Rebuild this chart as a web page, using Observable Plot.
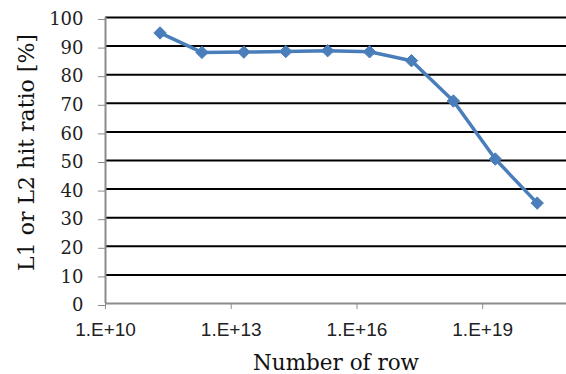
<!DOCTYPE html>
<html>
<head>
<meta charset="utf-8">
<script src="https://cdn.jsdelivr.net/npm/d3@7"></script>
<script src="https://cdn.jsdelivr.net/npm/@observablehq/plot@0.6"></script>
<style>
  html, body { margin: 0; padding: 0; background: #fff; }
  #chart svg { display: block; }
</style>
</head>
<body>
<div id="chart"></div>
<script>
const rows = [2e11, 2e12, 2e13, 2e14, 2e15, 2e16, 2e17, 2e18, 2e19, 2e20];
const hitRatio = [94.6, 87.8, 87.9, 88.1, 88.4, 88.0, 84.9, 70.8, 50.5, 35.1];
const xTicks = [1e10, 1e13, 1e16, 1e19];
const yTicks = [0, 10, 20, 30, 40, 50, 60, 70, 80, 90, 100];
const gridY = yTicks.filter(v => v > 0);

const data = rows.map((r, i) => ({rows: r, ratio: hitRatio[i]}));
const blue = "#4a7ebb";

const chart = Plot.plot({
  width: 566,
  height: 374,
  marginLeft: 105,
  marginRight: 0,
  marginTop: 17,
  marginBottom: 71,
  style: {background: "#fff", overflow: "visible"},
  x: {type: "log", domain: [1e10, 1e21]},
  y: {domain: [0, 100]},
  marks: [
    Plot.ruleY(gridY, {stroke: "#000", strokeWidth: 2}),
    Plot.ruleY([0], {stroke: "#8c8c8c", strokeWidth: 2}),
    Plot.ruleX([1e10], {stroke: "#8c8c8c", strokeWidth: 2}),
    Plot.axisY(yTicks, {
      tickSize: 7, tickPadding: 15, stroke: "#8c8c8c",
      fontFamily: "DejaVu Serif", fontSize: 18, fill: "#222",
      dy: 2,
      label: null
    }),
    Plot.axisX(xTicks, {
      tickSize: 6, tickPadding: 13, stroke: "#8c8c8c",
      tickFormat: d => "1.E+" + Math.round(Math.log10(d)),
      fontFamily: "Liberation Sans", fontSize: 19, fill: "#222",
      label: null
    }),
    Plot.text(["Number of row"], {
      frameAnchor: "bottom", dy: 66,
      fontFamily: "DejaVu Serif", fontSize: 21.5, fill: "#111"
    }),
    Plot.text(["L1 or L2 hit ratio [%]"], {
      frameAnchor: "left", dx: -79, dy: -8, rotate: -90, textAnchor: "middle",
      fontFamily: "DejaVu Serif", fontSize: 22, fill: "#111"
    }),
    Plot.line(data, {x: "rows", y: "ratio", stroke: blue, strokeWidth: 3.5}),
    Plot.dot(data, {x: "rows", y: "ratio", symbol: "diamond2", r: 5.6, fill: blue, stroke: blue, strokeWidth: 1})
  ]
});
document.getElementById("chart").append(chart);
</script>
</body>
</html>
